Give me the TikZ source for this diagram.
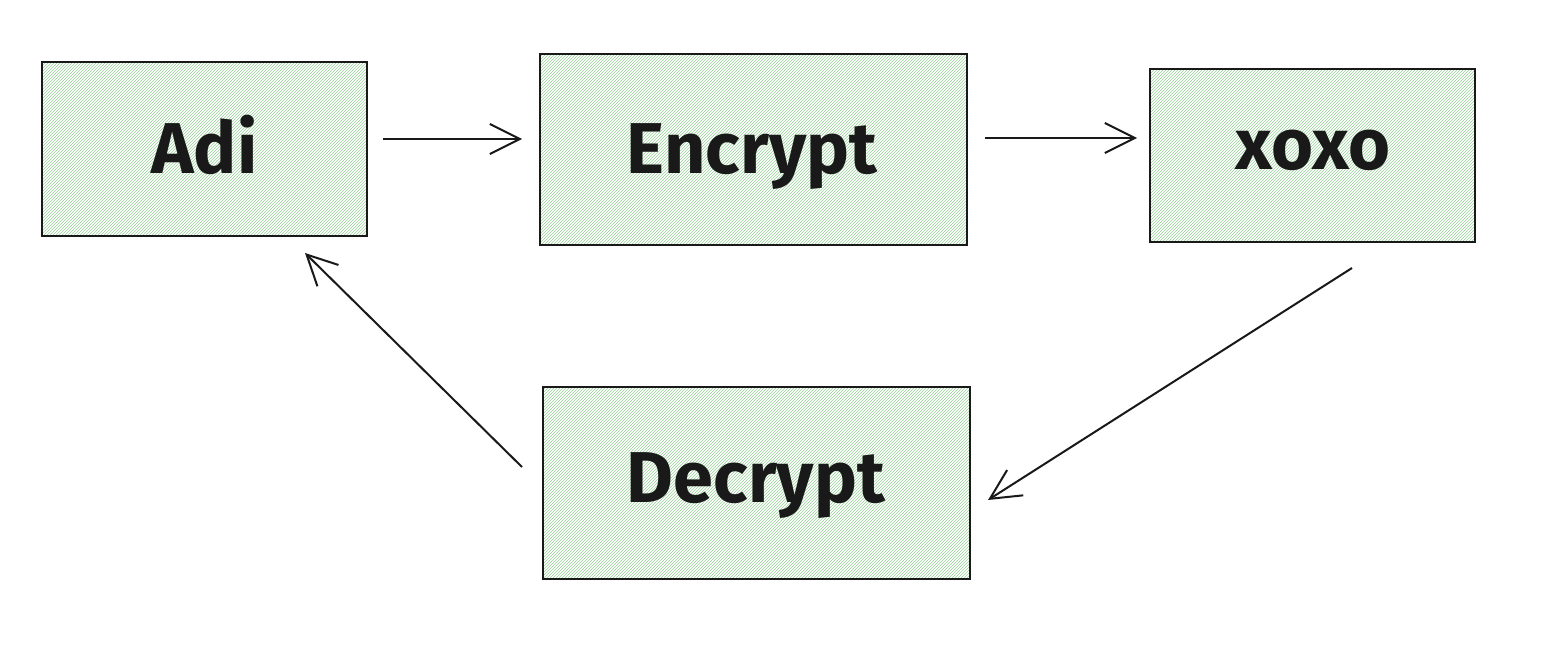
\documentclass[tikz,border=0pt]{standalone}
\usepackage{fontspec}
\setmainfont{Fira Sans}
\usetikzlibrary{patterns,arrows.meta,calc}
\begin{document}
\begin{tikzpicture}[x=1pt,y=-1pt,
  box/.style={draw=black!90,line width=2.5pt,pattern=north east lines,pattern color=green!55!black!40,
    inner sep=0pt,font=\fontsize{72}{74}\bfseries\selectfont,text=black!90},
  conn/.style={line width=2pt,draw=black!90,-{Straight Barb[length=30pt,width=30pt]}}]
\useasboundingbox (0,0) rectangle (1542,648);
\node[box,minimum width=325pt,minimum height=174pt] (adi) at (204.5,149) {};
\node[box,minimum width=427pt,minimum height=191pt] (enc) at (753.5,149.5) {};
\node[box,minimum width=325pt,minimum height=173pt] (xoxo) at (1312.5,155.5) {};
\node[box,minimum width=427pt,minimum height=192pt] (dec) at (756.5,483) {};
\node[font=\fontsize{72}{74}\bfseries\selectfont,text=black!90] (tadi) at (204.5,145) {Adi};
\node[font=\fontsize{72}{74}\bfseries\selectfont,text=black!90] (tenc) at (752,157) {Encrypt};
\node[font=\fontsize{72}{74}\bfseries\selectfont,text=black!90] (txoxo) at (1313,150) {xoxo};
\node[font=\fontsize{72}{74}\bfseries\selectfont,text=black!90] (tdec) at (756,486) {Decrypt};
\coordinate (a1) at (383,139); \coordinate (a2) at (522,139);
\coordinate (b1) at (985,138); \coordinate (b2) at (1137,138);
\coordinate (c1) at (1352,268); \coordinate (c2) at (988,500);
\coordinate (d1) at (522,467); \coordinate (d2) at (305,253);
\draw[conn] (a1) -- (a2);
\draw[conn] (b1) -- (b2);
\draw[conn] (c1) -- (c2);
\draw[conn] (d1) -- (d2);
\end{tikzpicture}
\end{document}
